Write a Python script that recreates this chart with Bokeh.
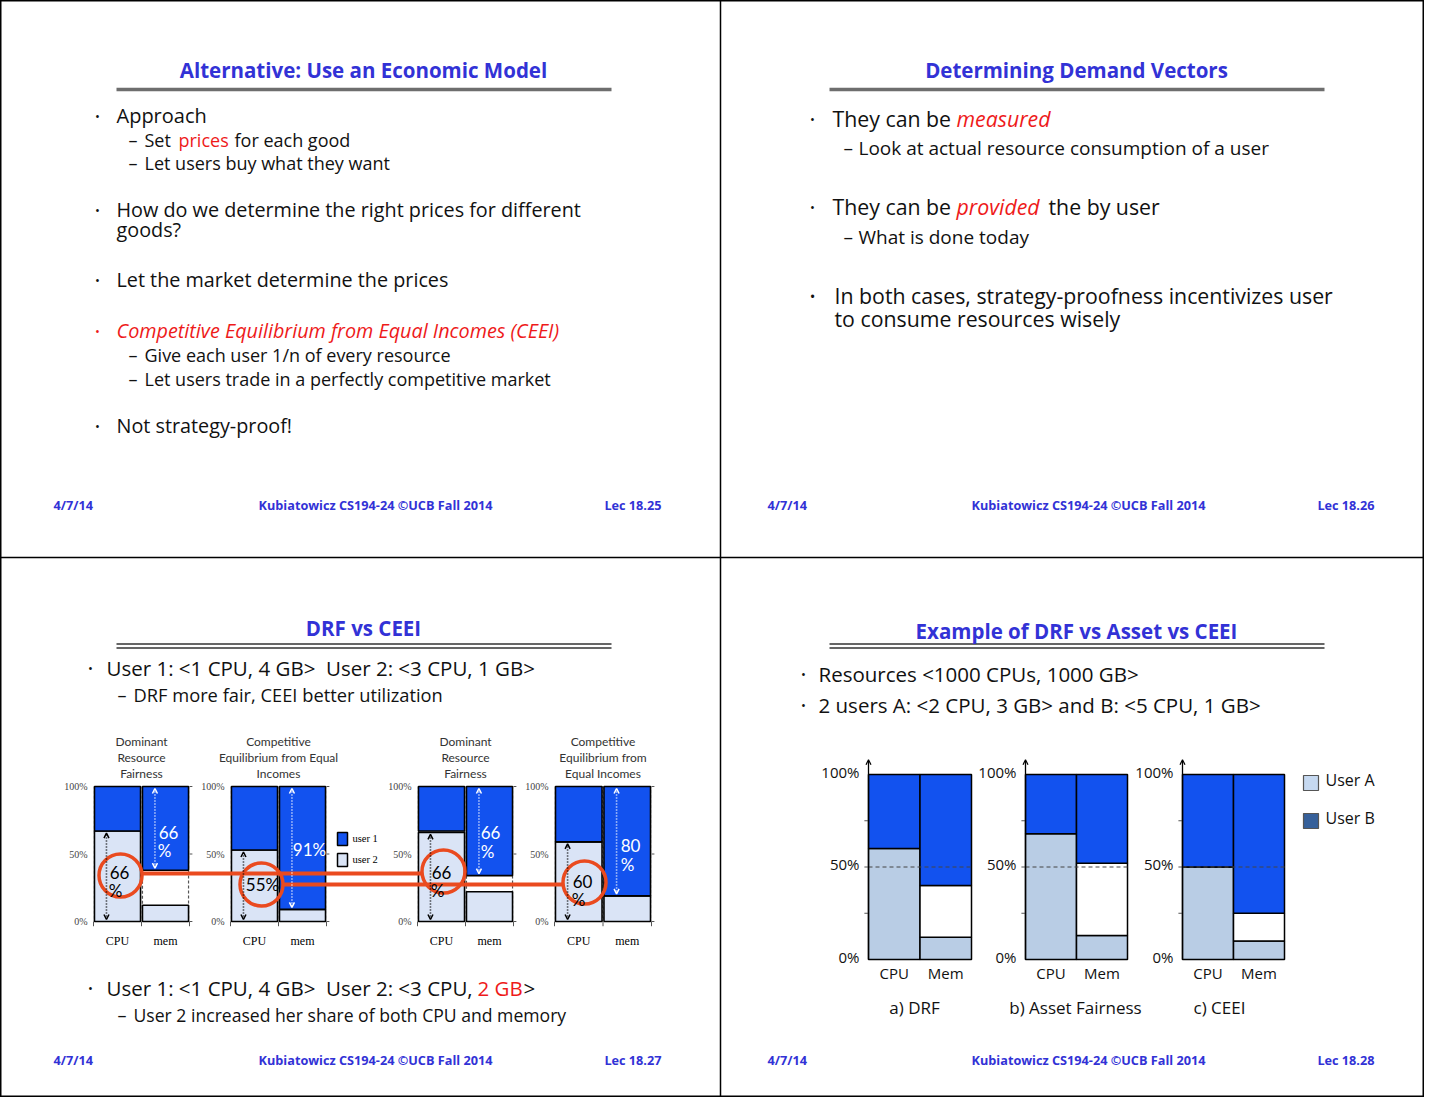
from bokeh.plotting import figure
from bokeh.models import Range1d, Label, Arrow, OpenHead
from bokeh.embed import file_html
from bokeh.resources import INLINE

# ---------------- data ----------------
# Slide 18.27 (DRF vs CEEI): four stacked panels, shares in percent
bl_titles = [["Dominant", "Resource", "Fairness"],
             ["Competitive", "Equilibrium from Equal", "Incomes"],
             ["Dominant", "Resource", "Fairness"],
             ["Competitive", "Equilibrium from", "Equal Incomes"]]
bl_resources = ["CPU", "mem"]
bl_user2 = [[67, 12], [53, 9], [66, 22], [59, 19]]   # bottom (light)
bl_user1 = [[33, 62], [47, 91], [33, 66], [41, 81]]  # top (blue)
bl_ticks = [0, 50, 100]
bl_tick_labels = ["0%", "50%", "100%"]
bl_legend = ["user 1", "user 2"]

# Slide 18.28 (DRF vs Asset vs CEEI)
br_panels = ["a) DRF", "b) Asset Fairness", "c) CEEI"]
br_resources = ["CPU", "Mem"]
br_userA = [[60, 12], [68, 13], [50, 10]]
br_free = [[0, 28], [0, 39], [0, 15]]
br_userB = [[40, 60], [32, 48], [50, 75]]
br_ticks = [0, 50, 100]
br_tick_labels = ["0%", "50%", "100%"]
br_legend = ["User A", "User B"]

# ---------------- layout (picture pixels) ----------------
W, H = 1424, 1097
X0, Y0 = 0, 0
bl_x0 = [93, 230, 417, 554]
bl_x1 = [189, 326, 513, 651]
BL_YBOT, BL_YTOP = 921, 786
br_x0 = [868, 1025, 1182]
br_x1 = [971, 1127, 1284]
BR_YBOT, BR_YTOP = 959, 774
br_label_x = [914, 1075, 1219]

BODY = "Open Sans"
CAL = "Lato"
SERIF = "Liberation Serif"
TITLE = "#3232d6"
INK = "#111111"
RED = "#ee1a1a"
BLUE = "#1252ef"
LIGHT1 = "#dae4f6"
LIGHT2 = "#b9cde5"
ORANGE = "#ea4a1f"
SP2 = " \u00a0"

p = figure(width=W, height=H, x_range=Range1d(X0, X0 + W), y_range=Range1d(Y0 + H, Y0),
           x_axis_location=None, y_axis_location=None, toolbar_location=None,
           output_backend="svg", min_border=0)
p.xgrid.visible = False
p.ygrid.visible = False
p.outline_line_color = "black"
p.outline_line_width = 2
p.background_fill_color = "white"


def add_ranges(name, px0, px1, u0, u1, py0, py1, v0, v1):
    sx = (px1 - px0) / (u1 - u0)
    ax = u0 - (px0 - X0) / sx
    sy = (py0 - py1) / (v1 - v0)
    ay = v0 - (Y0 + H - py0) / sy
    p.extra_x_ranges = {**p.extra_x_ranges, name + "_x": Range1d(ax, ax + W / sx)}
    p.extra_y_ranges = {**p.extra_y_ranges, name + "_y": Range1d(ay, ay + H / sy)}
    return name + "_x", name + "_y"


def T(x, y, s, size, color=INK, font=BODY, style="normal", align="left",
      baseline="middle", xr="default", yr="default", xo=0):
    p.add_layout(Label(x=x, y=y, text=s, text_font=font, text_font_size=f"{size}px",
                       text_color=color, text_font_style=style, text_align=align,
                       text_baseline=baseline, x_offset=xo,
                       x_range_name=xr, y_range_name=yr))


def bullet(x, y, color=INK, size=13):
    T(x, y, "•", size, color, align="center")


def dash(x, y, size=18):
    T(x, y, "–", size)


def footer(y, xl, xc, xr_, lec):
    T(xl, y, "4/7/14", 12.7, TITLE, style="bold")
    T(xc, y, "Kubiatowicz CS194-24 ©UCB Fall 2014", 12.7, TITLE, style="bold", align="center")
    T(xr_, y, lec, 12.7, TITLE, style="bold", align="right")


# ---------------- frame dividers ----------------
p.segment(x0=[720, X0], y0=[Y0, 557], x1=[720, X0 + W], y1=[Y0 + H, 557],
          line_color="black", line_width=1.5)

# ---------------- slide 18.25 ----------------
T(363, 69, "Alternative: Use an Economic Model", 20.5, TITLE, style="bold", align="center")
p.segment(x0=116, y0=89, x1=611, y1=89, line_color="#6e6e6e", line_width=3.5)
bullet(97, 115); T(116, 115, "Approach", 20)
dash(128, 139); T(144, 139, "Set", 18); T(178, 139, "prices", 18, RED); T(234, 139, "for each good", 18)
dash(128, 162); T(144, 162, "Let users buy what they want", 18)
bullet(97, 209); T(116, 209, "How do we determine the right prices for different", 19.8)
T(116, 229, "goods?", 19.8)
bullet(97, 279); T(116, 279, "Let the market determine the prices", 19.8)
bullet(97, 330, RED); T(116, 330, "Competitive Equilibrium from Equal Incomes (CEEI)", 19.8, RED, style="italic")
dash(128, 354); T(144, 354, "Give each user 1/n of every resource", 18)
dash(128, 378); T(144, 378, "Let users trade in a perfectly competitive market", 18)
bullet(97, 425); T(116, 425, "Not strategy-proof!", 19.8)
footer(504, 53, 375, 661, "Lec 18.25")

# ---------------- slide 18.26 ----------------
T(1076, 69, "Determining Demand Vectors", 20.5, TITLE, style="bold", align="center")
p.segment(x0=829, y0=89, x1=1324, y1=89, line_color="#6e6e6e", line_width=3.5)
bullet(812, 118); T(832, 118, "They can be", 21.3); T(956, 118, "measured", 21.3, RED, style="italic")
dash(843, 147, 19); T(858, 147, "Look at actual resource consumption of a user", 19)
bullet(812, 206); T(832, 206, "They can be", 21.3); T(956, 206, "provided", 21.3, RED, style="italic")
T(1048, 206, "the by user", 21.3)
dash(843, 236, 19); T(858, 236, "What is done today", 19)
bullet(812, 295, size=15); T(834, 295, "In both cases, strategy-proofness incentivizes user", 21.3)
T(834, 318, "to consume resources wisely", 21.3)
footer(504, 767, 1088, 1374, "Lec 18.26")

# ---------------- slide 18.27 ----------------
T(363, 627, "DRF vs CEEI", 20.5, TITLE, style="bold", align="center")
p.segment(x0=[116, 116], y0=[643.5, 647.5], x1=[611, 611], y1=[643.5, 647.5],
          line_color="#333333", line_width=1.3)
bullet(90, 667); T(106, 667, "User 1: <1 CPU, 4 GB>" + SP2 + "User 2: <3 CPU, 1 GB>", 20.5)
dash(117, 694); T(133, 694, "DRF more fair, CEEI better utilization", 18.3)

bl_xs = [0.5, 1.5]
for i in range(4):
    xr, yr = add_ranges(f"bl{i}", bl_x0[i], bl_x1[i], 0, 2, BL_YBOT, BL_YTOP, 0, 100)
    kw = dict(x_range_name=xr, y_range_name=yr)
    p.quad(left=[x - 0.48 for x in bl_xs], right=[x + 0.48 for x in bl_xs], bottom=0, top=100,
           fill_color=None, line_color="#555555", line_dash="3 2", line_width=1.2, **kw)
    p.vbar(x=bl_xs, width=0.96, bottom=0, top=bl_user2[i], fill_color=LIGHT1,
           line_color="black", line_width=1.6, **kw)
    p.vbar(x=bl_xs, width=0.96, bottom=[100 - v for v in bl_user1[i]], top=100,
           fill_color=BLUE, line_color="black", line_width=1.6, **kw)
    # small ticks
    p.segment(x0=[0, 1, 2], y0=0, x1=[0, 1, 2], y1=-3.5, line_color="#555555", line_width=1, **kw)
    p.segment(x0=2, y0=bl_ticks, x1=2.06, y1=bl_ticks, line_color="#555555", line_width=1, **kw)
    # dotted double arrows
    p.add_layout(Arrow(x_start=0.27, y_start=1.5, x_end=0.27, y_end=bl_user2[i][0] - 1.5,
                       start=OpenHead(size=5, line_width=1.5, line_color="black"),
                       end=OpenHead(size=5, line_width=1.5, line_color="black"),
                       line_dash="1 2", line_width=1.6, line_color="black", **kw))
    p.add_layout(Arrow(x_start=1.28, y_start=98.5, x_end=1.28, y_end=100 - bl_user1[i][1] + 1.5,
                       start=OpenHead(size=5, line_width=1.5, line_color="white"),
                       end=OpenHead(size=5, line_width=1.5, line_color="white"),
                       line_dash="1 2", line_width=1.6, line_color="white", **kw))
    for t, lab in zip(bl_ticks, bl_tick_labels):
        T(0, t, lab, 10, "#444444", SERIF, align="right", xr=xr, yr=yr, xo=-6)
    for x, lab in zip(bl_xs, bl_resources):
        T(x, 940, lab, 12, "black", SERIF, align="center", xr=xr)
    for k, line in enumerate(bl_titles[i]):
        T(1.0, 741 + 16 * k, line, 12, "#333333", CAL, align="center", xr=xr)

# value labels on the panels
T(119, 872, "66", 17, "black", CAL, align="center"); T(115, 890, "%", 17, "black", CAL, align="center")
T(168, 832, "66", 17, "white", CAL, align="center"); T(164, 850, "%", 17, "white", CAL, align="center")
T(262, 884, "55%", 17, "black", CAL, align="center")
T(309, 849, "91%", 17, "white", CAL, align="center")
T(441, 872, "66", 17, "black", CAL, align="center"); T(437, 890, "%", 17, "black", CAL, align="center")
T(490, 832, "66", 17, "white", CAL, align="center"); T(487, 851, "%", 17, "white", CAL, align="center")
T(582, 881, "60", 17, "black", CAL, align="center"); T(578, 899, "%", 17, "black", CAL, align="center")
T(630, 845, "80", 17, "white", CAL, align="center"); T(627, 864, "%", 17, "white", CAL, align="center")

# highlight circles and connectors
p.scatter(x=[120, 261, 443, 584], y=[875, 884, 871, 882], marker="circle", size=43,
          fill_color=None, line_color=ORANGE, line_width=3.5)
p.segment(x0=[141, 282], y0=[873, 884], x1=[422, 563], y1=[873, 884],
          line_color=ORANGE, line_width=4)

# legend
p.quad(left=[337, 337], right=[347, 347], top=[832, 853], bottom=[845, 866],
       fill_color=[BLUE, LIGHT1], line_color="black", line_width=1.5)
T(352, 838, bl_legend[0], 10.5, "black", SERIF)
T(352, 859, bl_legend[1], 10.5, "black", SERIF)

bullet(90, 987); T(106, 987, "User 1: <1 CPU, 4 GB>" + SP2 + "User 2: <3 CPU,", 20.5)
T(477, 987, "2 GB", 20.5, RED); T(523, 987, ">", 20.5)
dash(117, 1014); T(133, 1014, "User 2 increased her share of both CPU and memory", 17.6)
footer(1059, 53, 375, 661, "Lec 18.27")

# ---------------- slide 18.28 ----------------
T(1076, 630, "Example of DRF vs Asset vs CEEI", 20.5, TITLE, style="bold", align="center")
p.segment(x0=[829, 829], y0=[643.5, 647.5], x1=[1324, 1324], y1=[643.5, 647.5],
          line_color="#333333", line_width=1.3)
bullet(803, 673); T(818, 673, "Resources <1000 CPUs, 1000 GB>", 20.5)
bullet(803, 704); T(818, 704, "2 users A: <2 CPU, 3 GB> and B: <5 CPU, 1 GB>", 20.5)

br_xs = [0.5, 1.5]
for i in range(3):
    xr, yr = add_ranges(f"br{i}", br_x0[i], br_x1[i], 0, 2, BR_YBOT, BR_YTOP, 0, 100)
    kw = dict(x_range_name=xr, y_range_name=yr)
    A, F, B = br_userA[i], br_free[i], br_userB[i]
    p.vbar(x=br_xs, width=1, bottom=0, top=A, fill_color=LIGHT2,
           line_color="black", line_width=1.5, **kw)
    fx = [x for x, f in zip(br_xs, F) if f > 0]
    fb = [a for a, f in zip(A, F) if f > 0]
    ft = [a + f for a, f in zip(A, F) if f > 0]
    p.vbar(x=fx, width=1, bottom=fb, top=ft, fill_color="white",
           line_color="black", line_width=1.5, **kw)
    p.vbar(x=br_xs, width=1, bottom=[a + f for a, f in zip(A, F)], top=100, fill_color=BLUE,
           line_color="black", line_width=1.5, **kw)
    p.segment(x0=0, y0=50, x1=2, y1=50, line_color="#444444", line_dash="4 3", line_width=1, **kw)
    p.add_layout(Arrow(x_start=0, y_start=0, x_end=0, y_end=108,
                       end=OpenHead(size=5, line_width=1.2, line_color="black"),
                       line_width=1.3, line_color="black", **kw))
    p.segment(x0=-0.08, y0=[25, 50, 75], x1=0, y1=[25, 50, 75], line_color="#555555",
              line_width=1, **kw)
    for t, lab in zip(br_ticks, br_tick_labels):
        T(0, t + 1.5, lab, 15, INK, BODY, align="right", xr=xr, yr=yr, xo=-9)
    for x, lab in zip(br_xs, br_resources):
        T(x, 972, lab, 15, INK, BODY, align="center", xr=xr)
    T(br_label_x[i], 1007, br_panels[i], 17, INK, BODY, align="center")

p.quad(left=[1303, 1303], right=[1318, 1318], top=[775, 813], bottom=[790, 828],
       fill_color=["#c6d9f1", "#36609a"], line_color="#555555", line_width=1.2)
T(1325, 779, br_legend[0], 16)
T(1325, 817, br_legend[1], 16)
footer(1059, 767, 1088, 1374, "Lec 18.28")

open("out.html", "w").write(file_html(p, INLINE))
